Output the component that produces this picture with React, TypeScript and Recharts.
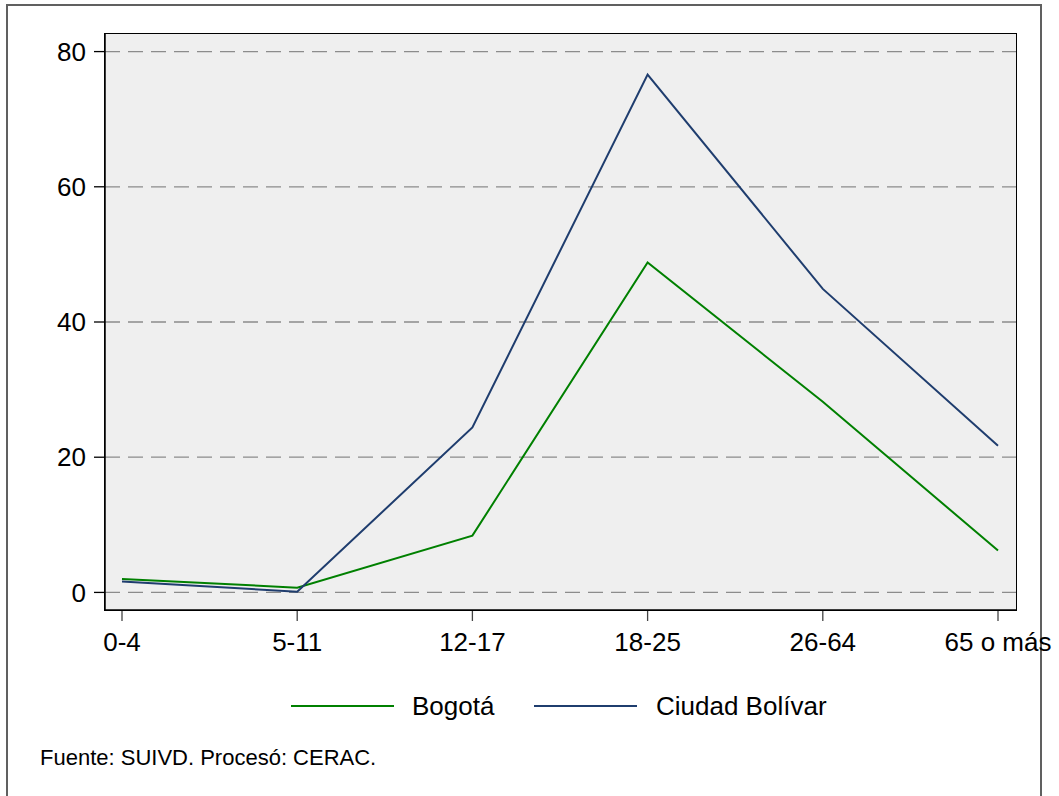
import React from "react";
import { LineChart, Line, XAxis, YAxis, CartesianGrid } from "recharts";

const categories = ["0-4", "5-11", "12-17", "18-25", "26-64", "65 o más"];
const bogota = [2.0, 0.7, 8.4, 48.8, 28.2, 6.2];
const ciudadBolivar = [1.6, 0.1, 24.4, 76.6, 44.9, 21.7];
const yTicks = [0, 20, 40, 60, 80];
const seriesNames = ["Bogotá", "Ciudad Bolívar"];
const seriesColors = ["#008000", "#1f3d6e"];
const footer = "Fuente: SUIVD. Procesó: CERAC.";

const data = categories.map((c, i) => ({
  cat: c,
  bogota: bogota[i],
  cb: ciudadBolivar[i],
}));

const FONT = "'Liberation Sans', Arial, Helvetica, sans-serif";

export default function App() {
  return (
    <div
      style={{
        position: "absolute",
        left: 0,
        top: 0,
        width: 1059,
        height: 796,
        background: "#fff",
        overflow: "hidden",
        fontFamily: FONT,
      }}
    >
      <div
        style={{
          position: "absolute",
          left: 6,
          top: 4,
          width: 1036,
          height: 820,
          border: "2px solid #606060",
          boxSizing: "border-box",
        }}
      />
      <LineChart
        width={1059}
        height={796}
        data={data}
        margin={{ top: 34, right: 43, left: 0, bottom: 146 }}
        style={{ position: "absolute", left: 0, top: 0, overflow: "visible" }}
      >
        <CartesianGrid
          vertical={false}
          horizontalValues={yTicks}
          fill="#efefef"
          stroke="#8c8c8c"
          strokeWidth={1.3}
          strokeDasharray="15 8"
        />
        <XAxis
          dataKey="cat"
          padding={{ left: 17, right: 18 }}
          height={40}
          tickSize={11}
          tickMargin={12}
          axisLine={{ stroke: "#000", strokeWidth: 1.5 }}
          tickLine={{ stroke: "#444", strokeWidth: 1.3 }}
          tick={{ fill: "#000", fontSize: 26, fontFamily: FONT }}
          interval={0}
        />
        <YAxis
          domain={[-2.6, 82.6]}
          ticks={yTicks}
          width={105}
          tickSize={11}
          tickMargin={8}
          axisLine={{ stroke: "#000", strokeWidth: 1.5 }}
          tickLine={{ stroke: "#000", strokeWidth: 1.3 }}
          tick={{ fill: "#000", fontSize: 26, fontFamily: FONT }}
        />
        <Line
          type="linear"
          dataKey="bogota"
          name={seriesNames[0]}
          stroke={seriesColors[0]}
          strokeWidth={2}
          dot={false}
          isAnimationActive={false}
        />
        <Line
          type="linear"
          dataKey="cb"
          name={seriesNames[1]}
          stroke={seriesColors[1]}
          strokeWidth={2}
          dot={false}
          isAnimationActive={false}
        />
      </LineChart>
      <div
        style={{
          position: "absolute",
          left: 104,
          top: 33,
          width: 913,
          height: 578,
          border: "1.5px solid #000",
          boxSizing: "border-box",
          pointerEvents: "none",
        }}
      />
      <svg
        width={1059}
        height={796}
        style={{ position: "absolute", left: 0, top: 0, pointerEvents: "none" }}
      >
        <line x1={291} x2={394} y1={706} y2={706} stroke={seriesColors[0]} strokeWidth={2} />
        <text x={412} y={715} fontSize={26} fontFamily={FONT} fill="#000">
          {seriesNames[0]}
        </text>
        <line x1={534} x2={637} y1={706} y2={706} stroke={seriesColors[1]} strokeWidth={2} />
        <text x={656} y={715} fontSize={26} fontFamily={FONT} fill="#000">
          {seriesNames[1]}
        </text>
        <text x={40} y={765} fontSize={22} fontFamily={FONT} fill="#000">
          {footer}
        </text>
      </svg>
    </div>
  );
}
